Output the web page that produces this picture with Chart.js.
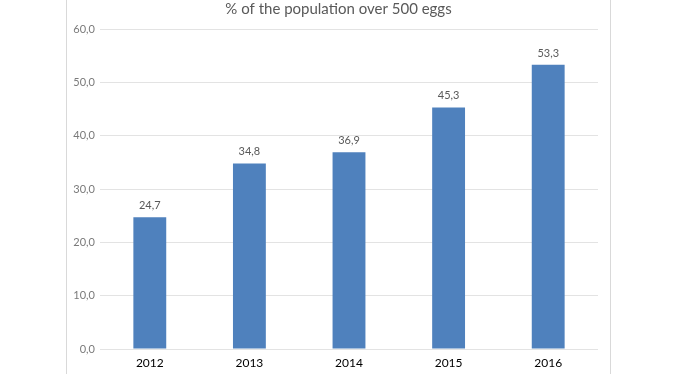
<!DOCTYPE html>
<html>
<head>
<meta charset="utf-8">
<script src="https://cdn.jsdelivr.net/npm/chart.js@4/dist/chart.umd.min.js"></script>
<style>
html,body{margin:0;padding:0;background:#fff;}
#wrap{width:677px;height:380px;position:relative;}
</style>
</head>
<body>
<div id="wrap"><canvas id="c" width="677" height="380"></canvas></div>
<script>
const categories = ['2012', '2013', '2014', '2015', '2016'];
const values = [24.7, 34.8, 36.9, 45.3, 53.3];
const yTicks = [0, 10, 20, 30, 40, 50, 60];
const titleText = '% of the population over 500 eggs';

const fmt = v => v.toFixed(1).replace('.', ',');

const framePlugin = {
  id: 'frame',
  beforeDraw(chart) {
    const ctx = chart.ctx;
    ctx.save();
    ctx.strokeStyle = '#d9d9d9';
    ctx.lineWidth = 1;
    ctx.beginPath();
    ctx.moveTo(66.5, 0); ctx.lineTo(66.5, 374);
    ctx.moveTo(610.5, 0); ctx.lineTo(610.5, 374);
    ctx.stroke();
    ctx.restore();
  }
};

const labelPlugin = {
  id: 'valueLabels',
  afterDatasetsDraw(chart) {
    const ctx = chart.ctx;
    const meta = chart.getDatasetMeta(0);
    ctx.save();
    ctx.font = '11px "Lato"';
    ctx.fillStyle = '#595959';
    ctx.textAlign = 'center';
    ctx.textBaseline = 'bottom';
    meta.data.forEach((bar, i) => {
      ctx.fillText(fmt(values[i]), bar.x, bar.y - 6);
    });
    ctx.restore();
  }
};

new Chart(document.getElementById('c'), {
  type: 'bar',
  data: {
    labels: categories,
    datasets: [{
      data: values,
      backgroundColor: '#4F81BD',
      borderWidth: 0,
      categoryPercentage: 1,
      barPercentage: 0.33
    }]
  },
  options: {
    responsive: false,
    animation: false,
    layout: { padding: 0 },
    plugins: {
      legend: { display: false },
      tooltip: { enabled: false },
      title: {
        display: true,
        text: titleText,
        color: '#595959',
        font: { family: 'Lato', size: 15, weight: 'normal' },
        padding: { top: 0, bottom: 11 }
      }
    },
    scales: {
      x: {
        grid: { display: false, drawTicks: false },
        border: { display: false },
        ticks: { color: '#000', font: { family: 'Lato', size: 12 }, padding: 7 },
        afterFit(s) { s.height = 31; }
      },
      y: {
        min: 0, max: 60,
        afterBuildTicks(s) { s.ticks = yTicks.map(v => ({ value: v })); },
        grid: { color: '#e3e3e3', drawTicks: false },
        border: { display: false },
        ticks: {
          color: '#7a7a7a',
          font: { family: 'Lato', size: 11 },
          padding: 5,
          callback: v => fmt(v)
        },
        afterFit(s) { s.width = 100; }
      },
      spacer: {
        position: 'right',
        min: 0, max: 60,
        grid: { display: false, drawTicks: false },
        border: { display: false },
        ticks: { display: false },
        afterFit(s) { s.width = 79; }
      }
    }
  },
  plugins: [framePlugin, labelPlugin]
});
</script>
</body>
</html>
